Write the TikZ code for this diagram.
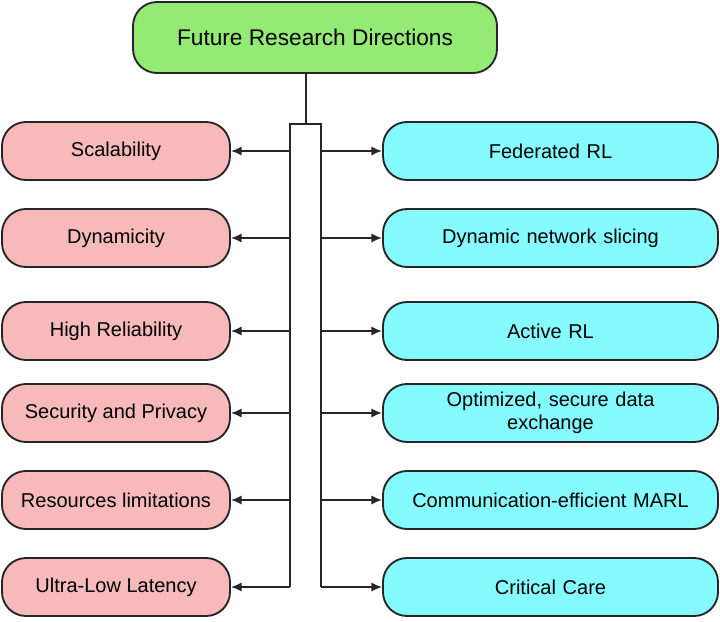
\documentclass[tikz,border=0pt]{standalone}
\usepackage{fontspec}
\setmainfont{Liberation Sans}
\usetikzlibrary{arrows.meta}
\definecolor{pinkf}{HTML}{F7B9B9}
\definecolor{cyanf}{HTML}{85FBFF}
\definecolor{greenf}{HTML}{93EB76}
\begin{document}
\begin{tikzpicture}[x=0.75pt,y=-0.75pt,
  box/.style={draw=black!85,line width=1.4pt,rounded corners=18pt,align=center,inner sep=2pt,font=\fontsize{15}{17}\selectfont},
  lbox/.style={box,fill=pinkf,minimum width=228*0.75pt,minimum height=58*0.75pt},
  rbox/.style={box,fill=cyanf,minimum width=335*0.75pt,minimum height=58*0.75pt,text width=320*0.75pt},
  con/.style={line width=1.4pt,draw=black!85},
  arr/.style={con,-{Latex[length=8pt,width=7pt]}}]
\useasboundingbox (0,0) rectangle (720,621);
\node[box,fill=greenf,minimum width=364*0.75pt,minimum height=71*0.75pt,font=\fontsize{17}{19}\selectfont] (top) at (315,37.5) {Future Research Directions};
\foreach \n/\y/\t in {l1/151/Scalability,l2/238/Dynamicity,l3/331/High Reliability,l4/413/Security and Privacy,l5/500/Resources limitations,l6/587/Ultra-Low Latency}
  \node[lbox] (\n) at (116,\y) {\t};
\foreach \n/\y/\t in {r1/151/Federated RL,r2/238/Dynamic network slicing,r3/331/Active RL,r4/413/{Optimized, secure data\\exchange},r5/500/Communication-efficient MARL,r6/587/Critical Care}
  \node[rbox] (\n) at (550.5,\y) {\t};
\coordinate (bt) at (306,124);
\coordinate (bl) at (290,124);
\coordinate (br) at (321,124);
\coordinate (bl6) at (290,587);
\coordinate (br6) at (321,587);
\draw[con] (top.south -| bt) -- (bt);
\draw[con] (bl6) -- (bl) -- (br) -- (br6);
\draw[arr] (bl6) -- (l6.east);
\draw[arr] (br6) -- (r6.west);
\foreach \i in {1,...,5}{
  \draw[arr] (l\i.east -| bl) -- (l\i.east);
  \draw[arr] (r\i.west -| br) -- (r\i.west);
}
\end{tikzpicture}
\end{document}
